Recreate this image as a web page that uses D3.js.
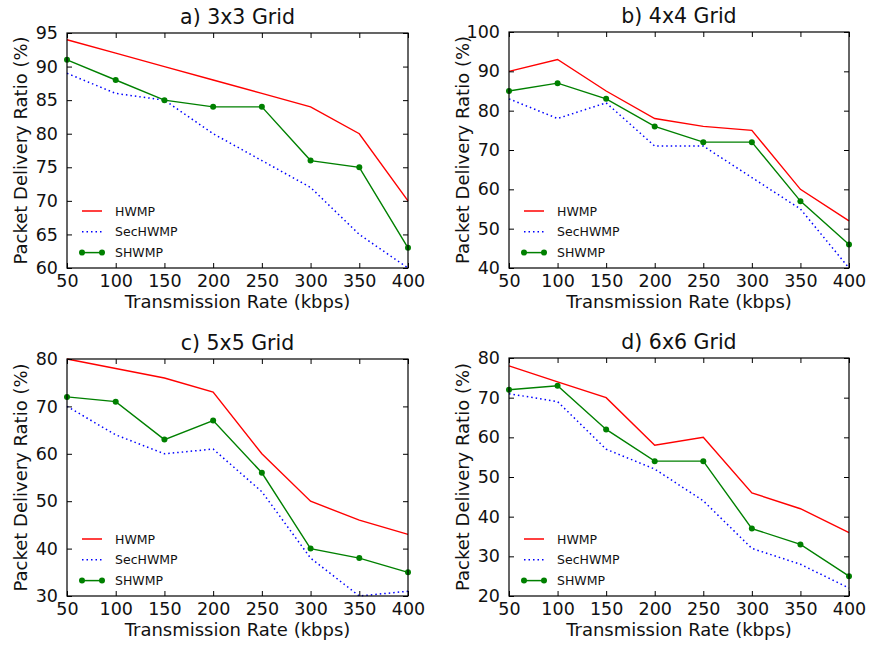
<!DOCTYPE html>
<html>
<head>
<meta charset="utf-8">
<script src="https://cdn.jsdelivr.net/npm/d3@7"></script>
<style>
	body { margin: 0; background: #fff; }
	svg { font-family: 'DejaVu Sans', sans-serif; }
</style>
</head>
<body>
<svg id="chart" width="869" height="645"></svg>
<script>
var rates = [50, 100, 150, 200, 250, 300, 350, 400];
var seriesNames = ['HWMP', 'SecHWMP', 'SHWMP'];

var titles = ['a) 3x3 Grid', 'b) 4x4 Grid', 'c) 5x5 Grid', 'd) 6x6 Grid'];

// grid 3x3
var hwmp3 = [94, 92, 90, 88, 86, 84, 80, 70];
var sec3 = [89, 86, 85, 80, 76, 72, 65, 60];
var shwmp3 = [91, 88, 85, 84, 84, 76, 75, 63];
// grid 4x4
var hwmp4 = [90, 93, 85, 78, 76, 75, 60, 52];
var sec4 = [83, 78, 82, 71, 71, 63, 55, 40];
var shwmp4 = [85, 87, 83, 76, 72, 72, 57, 46];
// grid 5x5
var hwmp5 = [80, 78, 76, 73, 60, 50, 46, 43];
var sec5 = [70, 64, 60, 61, 52, 38, 30, 31];
var shwmp5 = [72, 71, 63, 67, 56, 40, 38, 35];
// grid 6x6
var hwmp6 = [78, 74, 70, 58, 60, 46, 42, 36];
var sec6 = [71, 69, 57, 52, 44, 32, 28, 22];
var shwmp6 = [72, 73, 62, 54, 54, 37, 33, 25];

var yTicks3 = [60, 65, 70, 75, 80, 85, 90, 95];
var yTicks4 = [40, 50, 60, 70, 80, 90, 100];
var yTicks5 = [30, 40, 50, 60, 70, 80];
var yTicks6 = [20, 30, 40, 50, 60, 70, 80];

var panels = [
	{title: titles[0], data: [hwmp3, sec3, shwmp3], ticks: yTicks3, box: [67, 33, 408, 268]},
	{title: titles[1], data: [hwmp4, sec4, shwmp4], ticks: yTicks4, box: [509, 32, 849, 268]},
	{title: titles[2], data: [hwmp5, sec5, shwmp5], ticks: yTicks5, box: [67, 359, 408, 596]},
	{title: titles[3], data: [hwmp6, sec6, shwmp6], ticks: yTicks6, box: [509, 358, 849, 596]}
];

var colors = ['#ff0000', '#0000ff', '#008000'];
var dashes = [null, '1.5,3', null];

var svg = d3.select('#chart');

for(var p = 0; p < panels.length; p++)
{
	drawPanel(panels[p]);
}

function drawPanel(panel)
{
	var b = panel.box;
	var w = b[2] - b[0];
	var h = b[3] - b[1];
	var ticks = panel.ticks;

	var g = svg.append('g').attr('transform', 'translate(' + b[0] + ',' + b[1] + ')');

	var x = d3.scaleLinear().domain([50, 400]).range([0, w]);
	var y = d3.scaleLinear().domain([ticks[0], ticks[ticks.length - 1]]).range([h, 0]);

	var clipId = 'clip' + b[0] + '_' + b[1];
	g.append('clipPath').attr('id', clipId)
		.append('rect').attr('x', -4).attr('y', -4).attr('width', w + 8).attr('height', h + 8);

	var plot = g.append('g').attr('clip-path', 'url(#' + clipId + ')');

	var line = d3.line()
		.x(function(d, i) { return x(rates[i]); })
		.y(function(d) { return y(d); });

	for(var s = 0; s < panel.data.length; s++)
	{
		var path = plot.append('path')
			.datum(panel.data[s])
			.attr('d', line)
			.attr('fill', 'none')
			.attr('stroke', colors[s])
			.attr('stroke-width', 1.4);
		if(dashes[s]) path.attr('stroke-dasharray', dashes[s]).attr('stroke-width', 1.5);
	}

	// markers on SHWMP
	plot.selectAll('circle')
		.data(panel.data[2])
		.enter()
		.append('circle')
		.attr('cx', function(d, i) { return x(rates[i]); })
		.attr('cy', function(d) { return y(d); })
		.attr('r', 3)
		.attr('fill', colors[2]);

	// axes, ticks inward on all four sides
	var axB = d3.axisBottom(x).tickValues(rates).tickSizeInner(-5).tickSizeOuter(0).tickPadding(7);
	var axT = d3.axisTop(x).tickValues(rates).tickSizeInner(-5).tickSizeOuter(0).tickFormat('');
	var axL = d3.axisLeft(y).tickValues(ticks).tickSizeInner(-5).tickSizeOuter(0).tickPadding(9);
	var axR = d3.axisRight(y).tickValues(ticks).tickSizeInner(-5).tickSizeOuter(0).tickFormat('');

	var gb = g.append('g').attr('transform', 'translate(0,' + h + ')').call(axB);
	var gt = g.append('g').call(axT);
	var gl = g.append('g').call(axL);
	var gr = g.append('g').attr('transform', 'translate(' + w + ',0)').call(axR);

	[gb, gt, gl, gr].forEach(function(a)
	{
		a.select('.domain').remove();
		a.selectAll('line').attr('stroke', '#000').attr('stroke-width', 1);
		a.selectAll('text').attr('fill', '#111').style('font-size', '17.5px').style('font-family', 'DejaVu Sans');
	});

	g.append('rect')
		.attr('x', 0).attr('y', 0).attr('width', w).attr('height', h)
		.attr('fill', 'none').attr('stroke', '#000').attr('stroke-width', 1.2);

	// title and labels
	g.append('text')
		.attr('x', w / 2).attr('y', -9)
		.attr('text-anchor', 'middle')
		.style('font-size', '20.5px')
		.attr('fill', '#111')
		.text(panel.title);

	g.append('text')
		.attr('x', w / 2).attr('y', h + 40)
		.attr('text-anchor', 'middle')
		.style('font-size', '18px')
		.attr('fill', '#111')
		.text('Transmission Rate (kbps)');

	g.append('text')
		.attr('transform', 'translate(-40,' + (h / 2) + ') rotate(-90)')
		.attr('text-anchor', 'middle')
		.style('font-size', '18px')
		.attr('fill', '#111')
		.text('Packet Delivery Ratio (%)');

	// legend, no frame
	var leg = g.append('g').attr('transform', 'translate(0,' + (h - 57) + ')');
	for(var k = 0; k < seriesNames.length; k++)
	{
		var row = leg.append('g').attr('transform', 'translate(0,' + (k * 20.8) + ')');
		var ln = row.append('line')
			.attr('x1', 15).attr('x2', 35).attr('y1', 0).attr('y2', 0)
			.attr('stroke', colors[k]).attr('stroke-width', 1.5);
		if(dashes[k]) ln.attr('stroke-dasharray', dashes[k]);
		if(k == 2)
		{
			row.append('circle').attr('cx', 15).attr('cy', 0).attr('r', 3).attr('fill', colors[k]);
			row.append('circle').attr('cx', 35).attr('cy', 0).attr('r', 3).attr('fill', colors[k]);
		}
		row.append('text')
			.attr('x', 48).attr('y', 0).attr('dy', '0.36em')
			.style('font-size', '12.5px')
			.attr('fill', '#111')
			.text(seriesNames[k]);
	}
}
</script>
</body>
</html>
